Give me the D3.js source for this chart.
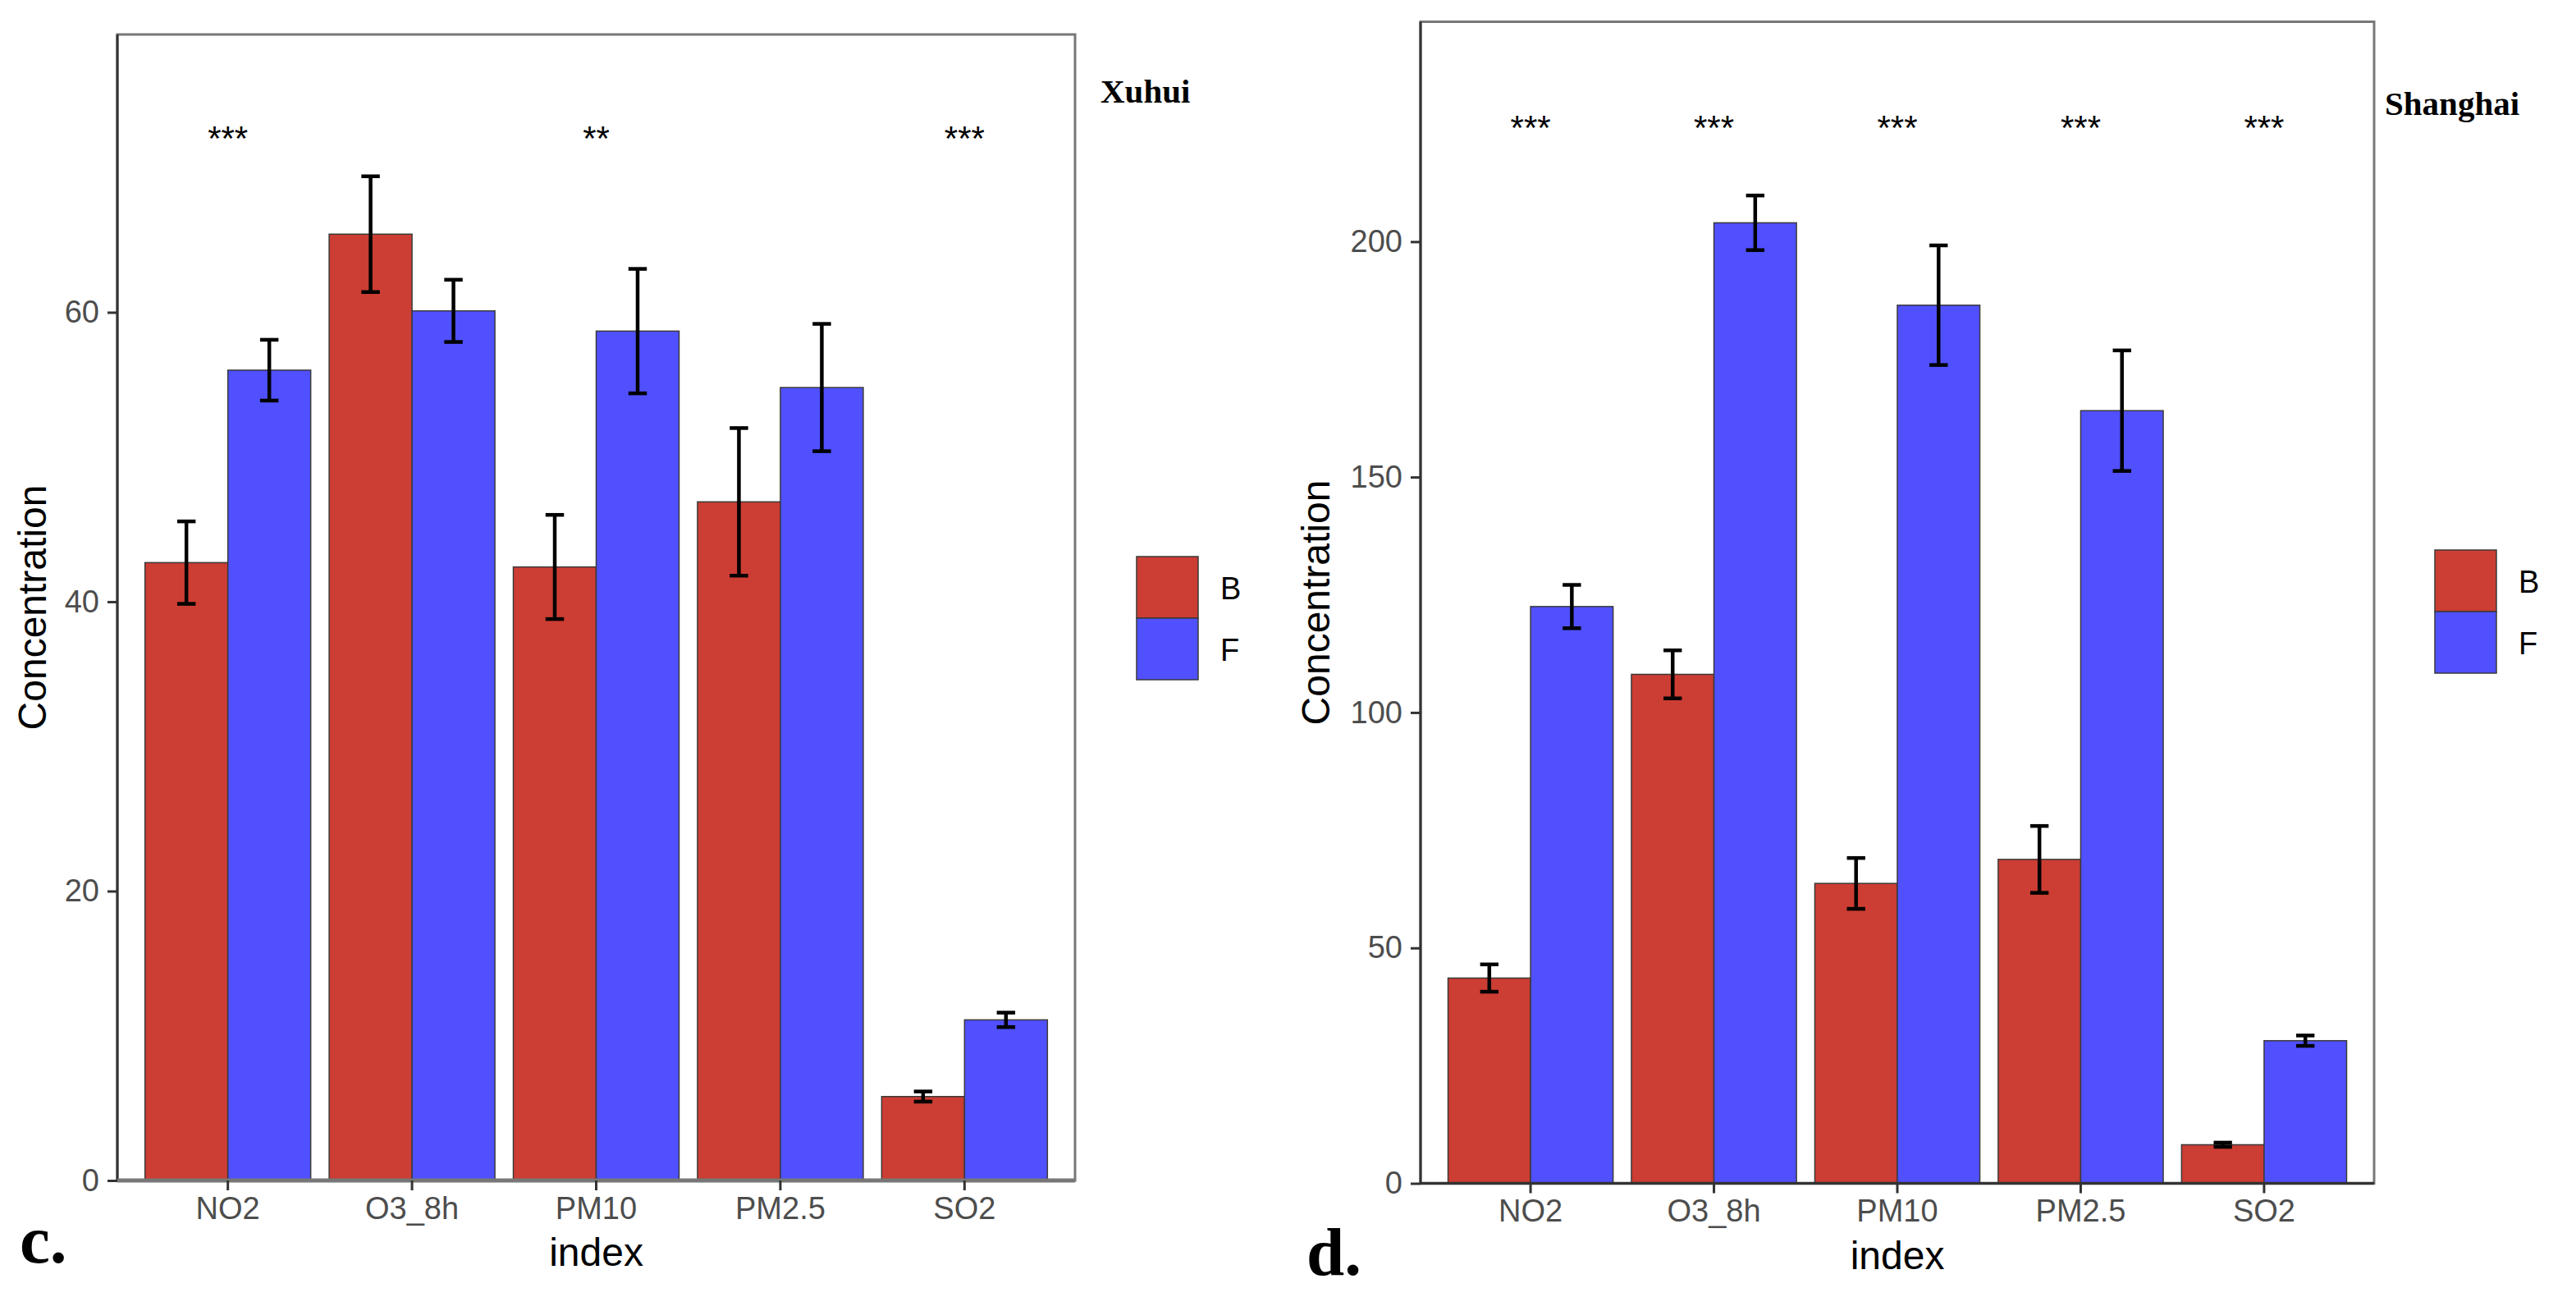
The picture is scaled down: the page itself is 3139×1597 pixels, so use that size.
<!DOCTYPE html>
<html>
<head>
<meta charset="utf-8">
<script src="https://cdn.jsdelivr.net/npm/d3@7"></script>
<style>
  body { margin: 0; background: #fff; }
  svg { display: block; }
</style>
</head>
<body>
<svg width="3139" height="1597"></svg>
<script>
// categories and groups
var categories = ["NO2", "O3_8h", "PM10", "PM2.5", "SO2"];
var groups = ["B", "F"];

// Xuhui (panel c)
var xuhuiB = [42.7, 65.4, 42.4, 46.9, 5.8];
var xuhuiBse = [2.85, 4.0, 3.6, 5.1, 0.35];
var xuhuiF = [56.0, 60.1, 58.7, 54.8, 11.1];
var xuhuiFse = [2.1, 2.15, 4.3, 4.4, 0.5];
var xuhuiSig = ["***", "", "**", "", "***"];
var xuhuiSigY = 72.5;
var xuhuiTicks = [0, 20, 40, 60];

// Shanghai (panel d)
var shanghaiB = [43.6, 108.1, 63.7, 68.8, 8.2];
var shanghaiBse = [2.9, 5.1, 5.4, 7.1, 0.45];
var shanghaiF = [122.5, 204.0, 186.5, 164.1, 30.3];
var shanghaiFse = [4.6, 5.8, 12.7, 12.8, 1.1];
var shanghaiSig = ["***", "***", "***", "***", "***"];
var shanghaiSigY = 225.7;
var shanghaiTicks = [0, 50, 100, 150, 200];

var colors = {B: "#CC3D33", F: "#5050FF"};
var sans = "'Liberation Sans', Arial, Helvetica, sans-serif";
var serif = "'Liberation Serif', 'Times New Roman', serif";

var svg = d3.select("svg");

function drawPanel(p) {
    var rows = [];
    categories.forEach(function(c, i){
        rows.push({cat: c, grp: "B", v: p.B[i], se: p.Bse[i]});
        rows.push({cat: c, grp: "F", v: p.F[i], se: p.Fse[i]});
    });

    var x = d3.scaleBand().domain(categories)
        .range([p.left, p.right]).paddingInner(0.1).paddingOuter(0.15);
    var xg = d3.scaleBand().domain(groups).range([0, x.bandwidth()]);
    var y = d3.scaleLinear().domain([0, p.ymax]).range([p.bottom, p.top]);
    var mid = function(c){ return x(c) + x.bandwidth() / 2; };
    var barMid = function(d){ return x(d.cat) + xg(d.grp) + xg.bandwidth() / 2; };

    var g = svg.append("g");

    // bars
    g.selectAll("rect.bar").data(rows).join("rect")
        .attr("class", "bar")
        .attr("x", function(d){ return x(d.cat) + xg(d.grp); })
        .attr("y", function(d){ return y(d.v); })
        .attr("width", xg.bandwidth())
        .attr("height", function(d){ return y(0) - y(d.v); })
        .attr("fill", function(d){ return colors[d.grp]; })
        .attr("stroke", "#3a3a3a")
        .attr("stroke-width", 1.5);

    // error bars
    var cap = x.step() * 0.05;
    var eb = g.selectAll("g.err").data(rows).join("g").attr("class", "err")
        .attr("stroke", "#000").attr("stroke-width", 4.5);
    eb.append("line")
        .attr("x1", barMid).attr("x2", barMid)
        .attr("y1", function(d){ return y(d.v + d.se); })
        .attr("y2", function(d){ return y(d.v - d.se); });
    [1, -1].forEach(function(s){
        eb.append("line")
            .attr("x1", function(d){ return barMid(d) - cap; })
            .attr("x2", function(d){ return barMid(d) + cap; })
            .attr("y1", function(d){ return y(d.v + s * d.se); })
            .attr("y2", function(d){ return y(d.v + s * d.se); });
    });

    // significance stars
    g.selectAll("text.sig").data(categories).join("text")
        .attr("class", "sig")
        .attr("x", function(c){ return mid(c); })
        .attr("y", y(p.sigY))
        .attr("dy", 23)
        .attr("text-anchor", "middle")
        .style("font-family", sans).style("font-size", "42px")
        .text(function(c, i){ return p.sig[i]; });

    // panel border
    g.append("rect")
        .attr("x", p.left).attr("y", p.top)
        .attr("width", p.right - p.left).attr("height", p.bottom - p.top)
        .attr("fill", "none").attr("stroke", "#777").attr("stroke-width", 3);

    // axes
    var yAxis = d3.axisLeft(y).tickValues(p.ticks).tickSize(12).tickPadding(10);
    var ya = g.append("g").attr("transform", "translate(" + p.left + ",0)").call(yAxis);
    var xAxis = d3.axisBottom(x).tickSize(12).tickPadding(8);
    var xa = g.append("g").attr("transform", "translate(0," + p.bottom + ")").call(xAxis);
    [ya, xa].forEach(function(a){
        a.select(".domain").attr("stroke", "#333").attr("stroke-width", 3);
        a.selectAll(".tick line").attr("stroke", "#333").attr("stroke-width", 3);
        a.selectAll(".tick text").attr("fill", "#4D4D4D")
            .style("font-family", sans).style("font-size", "38px");
    });
    ya.select(".domain").attr("d", "M0," + p.bottom + "V" + p.top);
    xa.select(".domain").attr("d", "M" + p.left + ",0H" + p.right)
        .attr("stroke", p.xLineColor).attr("stroke-width", p.xLineWidth);

    // axis titles
    g.append("text")
        .attr("transform", "translate(" + p.ytitleX + "," + ((p.top + p.bottom) / 2) + ") rotate(-90)")
        .attr("text-anchor", "middle")
        .style("font-family", sans).style("font-size", "48px")
        .text("Concentration");
    g.append("text")
        .attr("x", (p.left + p.right) / 2).attr("y", p.xtitleY)
        .attr("text-anchor", "middle")
        .style("font-family", sans).style("font-size", "48px")
        .text("index");

    // site title
    g.append("text")
        .attr("x", p.titleX).attr("y", p.titleY)
        .style("font-family", serif).style("font-weight", "bold").style("font-size", "41px")
        .text(p.title);

    // legend
    var keyW = 75, keyH = 75;
    var lg = g.selectAll("g.key").data(groups).join("g").attr("class", "key")
        .attr("transform", function(d, i){ return "translate(" + p.legX + "," + (p.legY + i * keyH) + ")"; });
    lg.append("rect")
        .attr("width", keyW).attr("height", keyH)
        .attr("fill", function(d){ return colors[d]; })
        .attr("stroke", "#3a3a3a").attr("stroke-width", 1.5);
    lg.append("text")
        .attr("x", keyW + 27).attr("y", keyH / 2 + 14)
        .style("font-family", sans).style("font-size", "38px")
        .text(function(d){ return d; });

    // panel letter
    g.append("text")
        .attr("x", p.letterX).attr("y", p.letterY)
        .style("font-family", serif).style("font-weight", "bold").style("font-size", "83px")
        .text(p.letter);
}

drawPanel({
    B: xuhuiB, Bse: xuhuiBse, F: xuhuiF, Fse: xuhuiFse,
    sig: xuhuiSig, sigY: xuhuiSigY, ticks: xuhuiTicks, ymax: 79.2,
    left: 143, right: 1310, top: 42, bottom: 1438,
    xLineColor: "#777", xLineWidth: 5,
    ytitleX: 56, xtitleY: 1542, titleX: 1341, titleY: 125, title: "Xuhui",
    legX: 1385, legY: 678, letter: "c.", letterX: 24, letterY: 1538
});

drawPanel({
    B: shanghaiB, Bse: shanghaiBse, F: shanghaiF, Fse: shanghaiFse,
    sig: shanghaiSig, sigY: shanghaiSigY, ticks: shanghaiTicks, ymax: 246.7,
    left: 1731, right: 2893, top: 26.5, bottom: 1441.5,
    xLineColor: "#333", xLineWidth: 3.5,
    ytitleX: 1620, xtitleY: 1546, titleX: 2906, titleY: 140, title: "Shanghai",
    legX: 2967, legY: 670, letter: "d.", letterX: 1592, letterY: 1553
});
</script>
</body>
</html>
